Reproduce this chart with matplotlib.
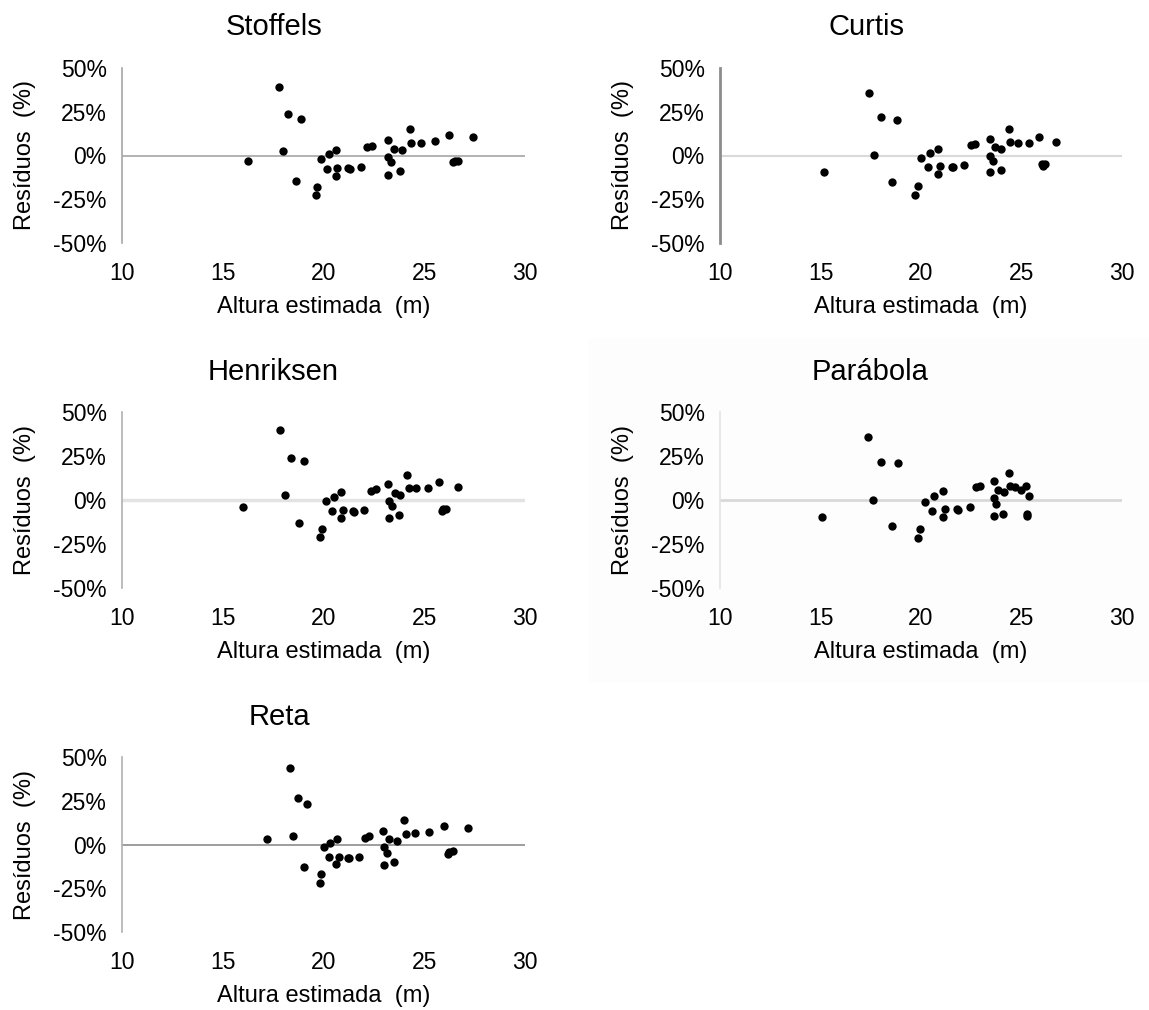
import matplotlib
matplotlib.use("Agg")
import matplotlib.pyplot as plt
from matplotlib.patches import Rectangle
from matplotlib.ticker import FuncFormatter

plt.rcParams['font.family'] = ['Liberation Sans', 'DejaVu Sans']

# data: estimated height (m) and residual (%)
stoffels_x = [16.25, 17.77, 17.97, 18.26, 18.86, 18.63, 19.69, 19.62, 19.87, 20.18, 20.25, 20.61,
              20.68, 20.61, 21.22, 21.32, 21.85, 22.18, 22.43, 23.19, 23.19, 23.34, 23.19, 23.50,
              23.88, 23.80, 24.28, 24.36, 24.84, 25.55, 26.23, 26.45, 26.69, 26.53, 27.40]
stoffels_y = [-3.0, 39.2, 2.3, 23.8, 21.1, -14.5, -17.9, -22.7, -2.1, -7.8, 0.6, 3.2,
              -7.2, -11.6, -7.0, -7.8, -6.5, 4.6, 5.3, 9.1, -1.0, -3.8, -10.9, 4.0,
              3.0, -9.0, 15.0, 7.2, 7.2, 8.2, 12.0, -3.8, -2.9, -3.2, 10.7]

curtis_x = [15.19, 17.41, 17.68, 18.03, 18.79, 18.54, 19.83, 19.72, 20.02, 20.35, 20.43, 20.85,
            20.96, 20.85, 21.53, 21.61, 22.16, 22.49, 22.70, 23.43, 23.43, 23.57, 23.43, 23.70,
            23.98, 23.96, 24.38, 24.43, 24.83, 25.36, 25.85, 26.07, 26.19, 26.02, 26.70]
curtis_y = [-9.2, 36.0, 0.2, 21.8, 20.5, -15.3, -17.4, -22.4, -1.5, -6.7, 1.5, 4.0,
            -5.9, -10.3, -6.3, -6.7, -5.2, 5.9, 6.5, 9.6, 0.0, -3.3, -9.6, 4.6,
            3.6, -8.4, 15.3, 7.5, 7.3, 7.3, 10.5, -6.1, -4.6, -4.8, 7.6]

henriksen_x = [16.02, 17.86, 18.08, 18.37, 19.02, 18.77, 19.93, 19.83, 20.12, 20.41, 20.51, 20.86,
               20.95, 20.86, 21.46, 21.53, 22.01, 22.35, 22.59, 23.22, 23.27, 23.40, 23.27, 23.53,
               23.80, 23.75, 24.16, 24.23, 24.61, 25.19, 25.72, 25.89, 26.08, 25.92, 26.67]
henriksen_y = [-4.2, 39.5, 2.9, 24.1, 22.1, -13.3, -16.5, -21.3, -0.8, -6.3, 1.9, 4.6,
               -5.7, -10.3, -6.5, -6.8, -5.5, 5.1, 6.1, 9.3, -0.6, -3.6, -10.3, 4.0,
               3.0, -8.7, 14.4, 6.7, 6.7, 6.7, 10.1, -6.5, -4.9, -5.3, 7.6]

parabola_x = [15.08, 17.37, 17.62, 18.03, 18.86, 18.56, 19.95, 19.83, 20.22, 20.53, 20.63, 21.09,
              21.19, 21.09, 21.77, 21.84, 22.42, 22.73, 22.96, 23.63, 23.61, 23.74, 23.61, 23.83,
              24.11, 24.06, 24.40, 24.45, 24.70, 24.98, 25.23, 25.25, 25.28, 25.36]
parabola_y = [-9.8, 35.6, 0.0, 21.8, 20.8, -15.0, -16.5, -21.4, -0.9, -6.1, 2.5, 5.1,
              -5.1, -9.7, -5.3, -5.5, -4.0, 7.4, 7.8, 10.6, 0.9, -2.5, -9.1, 5.5,
              4.4, -8.1, 15.3, 8.0, 7.4, 5.5, 8.0, -8.0, -9.1, 2.3]

reta_x = [17.18, 18.33, 18.50, 18.71, 19.16, 19.01, 19.89, 19.81, 20.04, 20.27, 20.32, 20.67,
          20.76, 20.64, 21.22, 21.27, 21.75, 22.05, 22.28, 22.95, 23.02, 23.15, 23.00, 23.25,
          23.63, 23.52, 24.00, 24.08, 24.53, 25.24, 25.96, 26.18, 26.43, 26.23, 27.17]
reta_y = [3.1, 43.6, 5.0, 26.8, 23.1, -13.0, -17.0, -21.8, -1.3, -6.9, 1.1, 3.4,
          -6.9, -11.1, -7.5, -7.8, -6.9, 3.8, 4.8, 7.8, -1.7, -4.8, -11.5, 3.1,
          1.9, -9.9, 13.8, 6.1, 6.5, 6.9, 10.7, -5.5, -3.8, -4.4, 9.2]

x_ticks = [10, 15, 20, 25, 30]
y_ticks = [-50, -25, 0, 25, 50]

W, H = 1149, 1010
fig = plt.figure(figsize=(W / 100, H / 100), dpi=100)

# faint background box behind the Parábola chart
fig.patches.append(Rectangle((588 / W, 1 - 683 / H), (W - 588) / W, (683 - 338) / H,
                             transform=fig.transFigure, facecolor='#fdfdfd',
                             edgecolor='none', zorder=-1))

# name, x, y, axes box (left, top, right, bottom px), title centre, spine colour/width, zero line colour/width
panels = [
    ("Stoffels", stoffels_x, stoffels_y, (122, 68, 525, 243), (274, 27), ('#a6a6a6', 1.2), ('#a6a6a6', 1.2)),
    ("Curtis", curtis_x, curtis_y, (720, 68, 1122, 243), (866, 27), ('#8c8c8c', 2.0), ('#d9d9d9', 1.5)),
    ("Henriksen", henriksen_x, henriksen_y, (122, 412, 525, 588), (273, 372), ('#b0b0b0', 1.2), ('#e3e3e3', 2.5)),
    ("Parábola", parabola_x, parabola_y, (720, 412, 1122, 588), (870, 372), ('#e3e3e3', 1.2), ('#d9d9d9', 2.0)),
    ("Reta", reta_x, reta_y, (122, 757, 525, 932), (279, 717), ('#b0b0b0', 1.2), ('#8c8c8c', 1.2)),
]

for name, xs, ys, box, tpos, spine, zero in panels:
    l, t, r, b = box
    ax = fig.add_axes([l / W, 1 - b / H, (r - l) / W, (b - t) / H])
    ax.set_zorder(2)
    ax.set_facecolor('none')
    ax.axhline(0, color=zero[0], lw=zero[1], zorder=1)
    ax.scatter(xs, ys, s=36, color='black', zorder=3, linewidths=0)
    ax.set_xlim(10, 30)
    ax.set_ylim(-50, 50)
    ax.set_xticks(x_ticks)
    ax.set_yticks(y_ticks)
    ax.yaxis.set_major_formatter(FuncFormatter(lambda v, p: f"{v:.0f}%"))
    ax.tick_params(length=0, labelsize=16.5, colors='black')
    ax.tick_params(axis='x', pad=13.5)
    ax.tick_params(axis='y', pad=11)
    for s in ['top', 'right', 'bottom']:
        ax.spines[s].set_visible(False)
    ax.spines['left'].set_color(spine[0])
    ax.spines['left'].set_linewidth(spine[1])

    fig.text(tpos[0] / W, 1 - tpos[1] / H, name, fontsize=21, ha='center', va='center')
    fig.text((l + r) / 2 / W, 1 - (b + 64) / H, "Altura estimada  (m)", fontsize=17,
             ha='center', va='center')
    fig.text((l - 97) / W, 1 - (t + b) / 2 / H, "Resíduos  (%)", fontsize=17,
             ha='center', va='center', rotation=90)

fig.savefig("out.png", dpi=100)
